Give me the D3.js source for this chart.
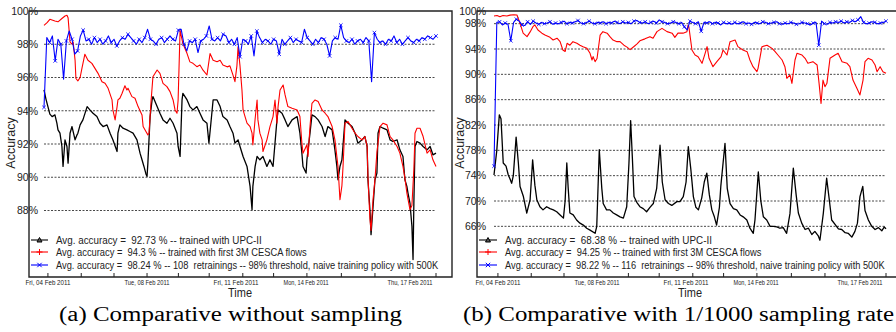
<!DOCTYPE html>
<html>
<head>
<meta charset="utf-8">
<script src="https://cdn.jsdelivr.net/npm/d3@7"></script>
<style>
  body { margin: 0; background: #fff; }
  text { font-family: "Liberation Sans", Arial, sans-serif; white-space: pre; }
  text.caption { font-family: "Liberation Serif", "DejaVu Serif", serif; }
</style>
</head>
<body>
<div id="chart"></div>
<script>
// time axis, in days since Fri 04 Feb 2011
const tickDays = [0.14, 1.33, 2.5, 3.68, 4.8, 5.9, 7.1, 8.2, 9.39, 10.62, 11.82, 13.07, 14.0];
const tickLabelDays = [0.14, 3.68, 6.86, 9.36, 13.07];
const tickLabels = ["Fri, 04 Feb 2011", "Tue, 08 Feb 2011", "Fri, 11 Feb 2011", "Mon, 14 Feb 2011", "Thu, 17 Feb 2011"];

const yTicksA = [100, 98, 96, 94, 92, 90, 88];
const gridA = [98, 96, 94, 92, 90, 88];
const yTicksB = [100, 98, 94, 90, 86, 82, 78, 74, 70, 66];
const gridB = [98, 94, 90, 86, 82, 78, 74, 70, 66];

const legendA = [
    "Avg. accuracy =  92.73 % -- trained with UPC-II",
    "Avg. accuracy =  94.3 % -- trained with first 3M CESCA flows",
    "Avg. accuracy =  98.24 % -- 108  retrainings -- 98% threshold, naive training policy with 500K"
];
const legendB = [
    "Avg. accuracy =  68.38 % -- trained with UPC-II",
    "Avg. accuracy =  94.25 % -- trained with first 3M CESCA flows",
    "Avg. accuracy =  98.22 % -- 116  retrainings -- 98% threshold, naive training policy with 500K"
];
const captions = ["(a) Comparative without sampling", "(b) Comparative with 1/1000 sampling rate"];

// (a) without sampling: [day, accuracy %]
const blackA = [[0,95.25],[0.07,94.7],[0.14,94.25],[0.21,93.8],[0.29,93.65],[0.39,93.75],[0.46,93.25],[0.5,92.85],[0.57,92.65],[0.64,91.85],[0.68,90.65],[0.75,92.25],[0.82,91.85],[0.86,90.85],[0.93,92.65],[1,93.05],[1.11,92.25],[1.18,92.55],[1.21,92.65],[1.29,93.15],[1.39,93.45],[1.54,94.25],[1.64,94.05],[1.75,93.85],[1.89,93.65],[2,93.25],[2.11,93.05],[2.25,93.15],[2.36,92.65],[2.46,92.25],[2.61,91.55],[2.64,92.65],[2.71,93.15],[2.82,92.95],[2.96,92.85],[3.07,92.75],[3.18,92.65],[3.32,92.25],[3.43,91.45],[3.5,91.05],[3.57,90.65],[3.64,90.2],[3.68,90.05],[3.71,90.85],[3.79,93.65],[3.86,94.65],[3.89,94.85],[4.04,94.25],[4.14,93.85],[4.25,93.45],[4.39,93.25],[4.5,93.55],[4.61,93.25],[4.75,92.65],[4.79,91.85],[4.86,91.25],[4.93,94.65],[4.96,95.05],[5.11,94.65],[5.21,94.25],[5.32,94.05],[5.46,94.25],[5.57,93.85],[5.68,93.45],[5.82,93.25],[5.89,92.05],[5.96,93.25],[6.04,94.65],[6.18,94.65],[6.29,94.25],[6.39,93.65],[6.54,93.45],[6.64,93.05],[6.75,92.65],[6.82,92.05],[6.93,92.25],[7,91.85],[7.11,91.25],[7.25,90.65],[7.36,89.45],[7.43,88.05],[7.46,89.45],[7.54,90.65],[7.61,91.25],[7.71,91.05],[7.82,91.25],[7.96,90.65],[8.07,91.05],[8.18,90.65],[8.32,93.45],[8.36,94.05],[8.5,93.85],[8.61,93.45],[8.71,93.05],[8.86,93.45],[9.04,93.65],[9.14,92.65],[9.21,91.45],[9.25,90.65],[9.36,90.25],[9.39,91.05],[9.5,92.65],[9.57,93.75],[9.68,93.65],[9.79,93.45],[9.93,93.05],[10.04,92.45],[10.14,93.05],[10.29,92.85],[10.39,91.65],[10.46,90.65],[10.5,89.85],[10.57,90.65],[10.64,91.05],[10.75,93.45],[10.86,93.25],[11,93.05],[11.11,92.65],[11.21,92.05],[11.36,92.25],[11.46,92.45],[11.54,91.85],[11.57,89.85],[11.64,88.05],[11.68,86.55],[11.75,88.2],[11.82,89.85],[11.89,90.25],[11.93,92.65],[12,93.05],[12.11,92.95],[12.25,92.85],[12.36,92.25],[12.46,92.15],[12.61,92.25],[12.71,91.65],[12.82,91.25],[12.89,89.85],[12.96,89.45],[13,89.05],[13.07,88.45],[13.14,87.05],[13.18,85.05],[13.21,88.5],[13.25,91.85],[13.32,92.15],[13.43,92.05],[13.54,91.85],[13.68,91.65],[13.79,91.85],[13.89,91.35],[14,91.45]];

const redA = [[0,99.14],[0.11,99.3],[0.21,99.5],[0.39,99.4],[0.5,99.35],[0.64,99.55],[0.75,99.7],[0.82,99.74],[0.86,99.6],[0.93,98.14],[1,98.0],[1.04,98.14],[1.11,97.04],[1.14,95.94],[1.21,95.8],[1.29,96.0],[1.36,96.6],[1.46,97.4],[1.57,97.04],[1.71,96.85],[1.82,96.55],[1.93,96.25],[2.07,95.75],[2.18,95.65],[2.29,95.35],[2.43,94.65],[2.46,94.05],[2.54,93.45],[2.61,94.25],[2.64,94.65],[2.71,94.75],[2.79,95.05],[2.89,95.5],[2.96,95.25],[3,95.35],[3.14,94.85],[3.25,94.75],[3.36,94.25],[3.5,93.75],[3.54,93.05],[3.64,92.75],[3.71,92.55],[3.75,92.65],[3.82,94.5],[3.89,96.04],[4.04,96.45],[4.14,96.25],[4.25,95.65],[4.39,95.45],[4.5,95.15],[4.61,94.65],[4.68,94.05],[4.75,93.85],[4.79,94.65],[4.86,98.84],[4.96,98.04],[5.11,97.44],[5.21,96.94],[5.32,96.85],[5.46,96.65],[5.57,96.75],[5.68,96.44],[5.82,96.15],[5.93,97.44],[6.04,97.04],[6.18,96.95],[6.29,97.04],[6.39,96.75],[6.54,96.64],[6.64,96.7],[6.75,96.14],[6.82,95.75],[6.89,96.7],[6.93,97.84],[7,96.7],[7.07,95.25],[7.11,94.05],[7.18,93.65],[7.25,93.25],[7.36,93.05],[7.43,92.65],[7.46,91.95],[7.54,93.5],[7.61,94.65],[7.64,93.45],[7.71,92.65],[7.79,92.25],[7.82,91.55],[7.96,92.25],[8.07,93.05],[8.18,93.65],[8.25,94.65],[8.32,93.25],[8.36,94.25],[8.43,95.25],[8.54,95.55],[8.61,94.95],[8.71,94.25],[8.86,94.15],[9.04,94.05],[9.14,93.65],[9.21,92.05],[9.25,91.45],[9.39,91.95],[9.43,91.25],[9.5,93.05],[9.57,94.45],[9.68,94.65],[9.79,94.55],[9.93,94.05],[10.04,93.85],[10.14,93.65],[10.29,93.05],[10.39,92.25],[10.5,90.65],[10.57,88.65],[10.64,89.5],[10.68,90.65],[10.75,93.25],[10.86,93.35],[11,92.95],[11.11,92.65],[11.21,92.45],[11.36,92.25],[11.46,92.45],[11.54,91.85],[11.57,90.05],[11.64,87.5],[11.68,86.8],[11.75,88.65],[11.82,89.85],[11.89,91.5],[12,93.05],[12.11,93.25],[12.25,93.15],[12.36,92.45],[12.46,92.25],[12.61,91.85],[12.71,91.45],[12.82,90.65],[12.89,89.95],[12.96,89.05],[13.07,88.05],[13.14,88.3],[13.21,90.5],[13.25,92.65],[13.32,92.95],[13.43,92.95],[13.54,92.45],[13.68,91.45],[13.79,91.65],[13.89,91.05],[14,90.65]];

// blue series sampled every 0.1 day
const blueA = [94.2,98.4,98.1,98.5,97.0,98.3,98.0,95.9,98.2,98.8,
    98.3,97.4,97.6,98.5,98.85,98.2,98.3,98.0,98.4,98.1,
    98.3,98.0,98.2,98.5,98.1,98.3,97.9,98.2,98.4,98.3,
    98.6,98.4,98.2,98.0,98.3,98.1,98.4,98.9,98.3,98.2,
    98.0,98.3,98.4,98.1,98.3,98.5,98.3,98.2,98.85,98.9,
    98.0,97.6,98.2,98.1,98.3,97.5,98.2,98.3,98.5,99.1,
    98.3,98.2,98.4,98.2,98.6,98.5,98.1,98.3,98.0,98.4,
    97.25,98.3,98.2,98.0,98.5,97.3,98.8,98.4,98.1,98.3,
    98.2,98.0,98.3,98.2,97.4,98.3,98.0,98.2,98.4,98.1,
    98.3,98.2,98.1,98.9,98.4,98.2,98.0,98.3,98.1,98.4,
    98.3,98.0,97.3,98.2,98.4,98.3,99.15,98.4,98.2,98.1,
    98.3,98.0,98.2,98.3,98.1,98.4,98.2,95.75,98.7,98.3,
    98.1,98.2,98.0,98.3,98.2,98.5,98.1,98.3,98.0,98.2,
    98.4,98.2,98.1,98.3,98.2,98.4,98.3,98.5,98.4,98.3,98.5];

// (b) 1/1000 sampling rate
const blackB = [[0,74.1],[0.1,78],[0.19,83.6],[0.25,83],[0.33,76],[0.43,75.5],[0.51,74.1],[0.57,73.5],[0.63,72.8],[0.69,74],[0.79,80.1],[0.87,76],[0.93,72.3],[1.05,70.7],[1.17,68.1],[1.29,70.2],[1.38,76.5],[1.46,72.5],[1.53,70.2],[1.64,69.1],[1.75,68.6],[1.88,69.1],[2,68.8],[2.12,68.6],[2.24,68.3],[2.36,67.8],[2.48,67.3],[2.54,70],[2.6,76.0],[2.65,72],[2.71,68.1],[2.83,67.8],[2.95,67.0],[3.07,66.5],[3.19,66.2],[3.31,65.7],[3.43,65.4],[3.61,64.9],[3.67,66],[3.76,78.1],[3.85,72],[3.9,69.6],[4.02,68.6],[4.14,68.6],[4.26,68.1],[4.38,67.8],[4.5,67.5],[4.62,67.3],[4.74,69.1],[4.82,76],[4.88,82.7],[4.94,77],[5,70.7],[5.1,69.8],[5.21,69.1],[5.33,68.8],[5.45,68.3],[5.57,69],[5.69,69.6],[5.81,72],[5.93,78.8],[6.01,73],[6.11,70.2],[6.23,69.6],[6.35,69.3],[6.53,69.9],[6.64,69.9],[6.76,70.7],[6.86,73],[6.94,78.6],[7.03,75],[7.12,70.7],[7.21,69],[7.3,68.6],[7.42,70.5],[7.51,73],[7.6,74.4],[7.69,71],[7.78,68.6],[7.87,67.5],[7.95,66.2],[8.05,69],[8.1,72.3],[8.25,79.1],[8.33,72],[8.43,69.6],[8.55,68.8],[8.67,68.6],[8.79,67.8],[8.9,67.5],[9.03,67],[9.14,65.7],[9.26,64.9],[9.32,67],[9.44,74.6],[9.53,70],[9.62,67.5],[9.74,67],[9.86,66],[9.98,66],[10.1,65.9],[10.21,65.7],[10.33,65.8],[10.45,64.9],[10.57,68],[10.69,75.2],[10.79,71],[10.87,68.1],[10.99,66.5],[11.11,65.5],[11.23,65.7],[11.35,64.7],[11.46,65.2],[11.58,64.5],[11.64,63.8],[11.76,68],[11.88,73.6],[11.98,70],[12.06,67],[12.18,66.3],[12.3,65.6],[12.42,65.5],[12.54,65],[12.65,64.9],[12.78,64.3],[12.89,65.2],[12.98,66.5],[13.07,70.7],[13.17,72.3],[13.25,68.5],[13.37,67],[13.49,66],[13.61,65.5],[13.73,65.8],[13.85,65.3],[13.94,65.9],[14,65.6]];

const redB = [[0,99.2],[0.11,99.3],[0.21,99.1],[0.32,99.3],[0.46,99.2],[0.57,99.35],[0.71,99.4],[0.82,99.37],[0.86,98.9],[0.93,98.05],[1.04,96.5],[1.18,95.95],[1.29,96.7],[1.39,97.53],[1.46,97.8],[1.57,97.0],[1.71,96.5],[1.82,96.2],[2,95.84],[2.11,95.42],[2.25,95.7],[2.36,95.16],[2.46,93.84],[2.54,93.6],[2.61,94.9],[2.71,94.6],[2.82,95.16],[2.96,94.9],[3.07,94.6],[3.18,94.37],[3.32,94.1],[3.43,93.32],[3.5,92.26],[3.54,92.8],[3.61,92.0],[3.68,92.5],[3.79,96.2],[3.89,96.74],[4.04,96.5],[4.14,95.95],[4.25,95.42],[4.39,95.16],[4.5,95.16],[4.64,94.6],[4.75,94.3],[4.86,93.9],[5,94.4],[5.11,94.8],[5.21,95.3],[5.39,95.6],[5.57,95.95],[5.68,95.7],[5.82,96.74],[6,97.26],[6.18,96.74],[6.36,96.5],[6.46,95.84],[6.57,96.5],[6.75,96.5],[6.89,96.74],[6.93,97.79],[6.96,97.5],[7.07,93.84],[7.18,93.05],[7.29,92.79],[7.43,91.74],[7.54,93.3],[7.61,94.37],[7.68,92.53],[7.82,91.21],[7.96,92.0],[8.11,92.79],[8.18,93.84],[8.32,93.05],[8.43,95.16],[8.61,95.42],[8.71,94.37],[8.89,93.84],[9.04,93.58],[9.14,92.26],[9.25,91.21],[9.39,90.42],[9.43,90.95],[9.57,94.37],[9.75,94.6],[9.93,94.1],[10.04,93.58],[10.14,93.05],[10.29,92.26],[10.39,91.21],[10.46,89.37],[10.57,89.9],[10.64,88.58],[10.75,92.26],[10.82,93.32],[11,93.05],[11.11,92.53],[11.21,91.74],[11.39,92.0],[11.54,91.47],[11.61,88.58],[11.68,85.42],[11.75,89.1],[11.82,88.05],[11.89,88.58],[12,92.53],[12.18,93.05],[12.29,93.32],[12.43,92.0],[12.61,91.74],[12.71,91.21],[12.82,89.1],[12.96,87.79],[13.07,86.74],[13.18,89.1],[13.25,92.0],[13.36,92.53],[13.5,92.26],[13.61,91.47],[13.68,90.42],[13.79,91.21],[13.89,90.42],[14,90.16]];

const blueB = [75.5,98.2,98.3,97.8,98.1,97.9,95.3,98.2,98.7,98.4,
    97.8,97.7,98.3,97.9,98.4,98.1,97.9,98.2,98.0,98.1,
    98.3,97.9,98.1,98.0,98.2,98.4,98.0,98.2,98.1,98.3,
    98.5,98.1,98.0,98.2,98.4,98.1,98.0,98.2,98.1,98.3,
    98.0,98.2,98.1,98.4,98.2,98.0,98.3,98.1,98.2,98.0,
    98.4,98.5,98.2,98.1,98.3,98.0,98.2,98.4,98.1,98.6,
    98.3,98.2,98.0,98.1,98.3,98.2,98.0,98.2,97.5,97.0,
    98.4,98.2,98.0,98.3,96.8,98.2,98.1,98.3,98.0,98.2,
    98.1,97.8,98.2,98.0,98.1,97.9,98.2,98.0,98.1,98.3,
    98.0,98.1,97.9,98.2,98.1,98.0,98.3,98.2,98.0,98.1,
    98.2,98.3,98.0,97.9,98.1,98.0,98.2,98.1,97.9,98.0,
    98.2,98.1,98.0,97.8,98.1,98.2,94.6,98.4,98.0,97.9,
    98.2,98.1,98.3,98.2,98.4,98.1,98.3,98.2,98.5,98.3,
    98.6,99.1,98.2,98.0,98.1,98.3,98.2,98.0,98.1,98.2,98.4];

const panels = [
    {frame: {left: 29, top: 11, right: 452, bottom: 277}, plot: [44, 436], yDomain: [84, 100],
     yTicks: yTicksA, grid: gridA, labelEnd: 38,
     black: blackA, red: redA, blue: blueA, legend: legendA,
     leg: {x0: 31, x1: 48, tx: 56, ys: [240, 252, 265], widths: [206, 251, 383]},
     yLabelX: 15, timeX: 240, caption: captions[0], capX: 59, capW: 343},
    {frame: {left: 477, top: 11, right: 899, bottom: 277}, plot: [494, 886], yDomain: [58, 100],
     yTicks: yTicksB, grid: gridB, labelEnd: 486,
     black: blackB, red: redB, blue: blueB, legend: legendB,
     leg: {x0: 479, x1: 497, tx: 505, ys: [240, 252, 265], widths: [207, 257, 380]},
     yLabelX: 464, timeX: 690, caption: captions[1], capX: 463, capW: 431}
];

const svg = d3.select("#chart").append("svg")
    .attr("width", 896)
    .attr("height", 332);

function drawPanel(p) {
    const g = svg.append("g");
    const f = p.frame;

    const x = d3.scaleLinear().domain([0, 14]).range(p.plot);
    const y = d3.scaleLinear().domain(p.yDomain).range([f.bottom, f.top]);
    const xi = d3.scaleLinear().domain([0, p.blue.length - 1]).range([0, 14]);

    // dashed grid
    g.selectAll("line.grid")
        .data(p.grid)
        .join("line")
        .attr("class", "grid")
        .attr("x1", p.plot[0]).attr("x2", p.plot[1])
        .attr("y1", d => y(d)).attr("y2", d => y(d))
        .attr("stroke", "#333")
        .attr("stroke-width", 0.9)
        .attr("stroke-dasharray", "2,1.5");

    // frame
    g.append("path")
        .attr("d", `M${f.left},${f.top}H${f.right}V${f.bottom}H${f.left}Z`)
        .attr("fill", "none")
        .attr("stroke", "#222")
        .attr("stroke-width", 1.4);

    // x ticks
    g.selectAll("line.xtick")
        .data(tickDays)
        .join("line")
        .attr("class", "xtick")
        .attr("x1", d => x(d)).attr("x2", d => x(d))
        .attr("y1", f.bottom).attr("y2", f.bottom - 4)
        .attr("stroke", "#222");

    g.selectAll("text.xlab")
        .data(tickLabelDays)
        .join("text")
        .attr("class", "xlab")
        .attr("x", d => x(d) - 22.5)
        .attr("y", f.bottom + 8)
        .attr("font-size", 7)
        .attr("textLength", 45)
        .attr("lengthAdjust", "spacingAndGlyphs")
        .attr("fill", "#222")
        .text((d, i) => tickLabels[i]);

    // y tick labels
    g.selectAll("text.ylab")
        .data(p.yTicks)
        .join("text")
        .attr("class", "ylab")
        .attr("x", p.labelEnd)
        .attr("y", d => y(d) + 3.8)
        .attr("text-anchor", "end")
        .attr("font-size", 10.5)
        .attr("fill", "#222")
        .text(d => d + "%");

    // series
    const line = d3.line().x(d => x(d[0])).y(d => y(d[1]));
    g.append("path").datum(p.black)
        .attr("d", line).attr("fill", "none")
        .attr("stroke", "#000").attr("stroke-width", 1.3).attr("stroke-linejoin", "round");
    g.append("path").datum(p.red)
        .attr("d", line).attr("fill", "none")
        .attr("stroke", "#ff0000").attr("stroke-width", 1.1).attr("stroke-linejoin", "round");

    const bluePts = p.blue.map((v, i) => [xi(i), v]);
    g.append("path").datum(bluePts)
        .attr("d", line).attr("fill", "none")
        .attr("stroke", "#0000ff").attr("stroke-width", 1.1).attr("stroke-linejoin", "round");
    g.selectAll("path.bx")
        .data(bluePts.filter((d, i) => i % 2 === 0))
        .join("path")
        .attr("class", "bx")
        .attr("transform", d => `translate(${x(d[0])},${y(d[1])})`)
        .attr("d", "M-1.8,-1.8L1.8,1.8M-1.8,1.8L1.8,-1.8")
        .attr("stroke", "#0000ff").attr("stroke-width", 0.8);

    // legend
    const colors = ["#000", "#ff0000", "#0000ff"];
    const marks = ["M-2.5,2L0,-2.5L2.5,2Z", "M-3,0H3M0,-3V3", "M-2.2,-2.2L2.2,2.2M-2.2,2.2L2.2,-2.2"];
    const leg = g.selectAll("g.leg")
        .data(p.legend)
        .join("g")
        .attr("class", "leg")
        .attr("transform", (d, i) => `translate(0,${p.leg.ys[i]})`);
    leg.append("line")
        .attr("x1", p.leg.x0).attr("x2", p.leg.x1)
        .attr("stroke", (d, i) => colors[i]).attr("stroke-width", 1.1);
    leg.append("path")
        .attr("transform", `translate(${(p.leg.x0 + p.leg.x1) / 2},0)`)
        .attr("d", (d, i) => marks[i])
        .attr("fill", (d, i) => i === 0 ? "#555" : "none")
        .attr("stroke", (d, i) => colors[i]).attr("stroke-width", 1);
    // squeeze each legend line horizontally, as in the printed figure
    leg.append("text")
        .attr("font-size", 10.5)
        .attr("fill", "#222")
        .text(d => d)
        .each(function(d, i) {
            const k = p.leg.widths[i] / this.getComputedTextLength();
            d3.select(this).attr("transform", `translate(${p.leg.tx},3.8) scale(${k},1)`);
        });

    // axis titles
    g.append("text")
        .attr("transform", `translate(${p.yLabelX},143) rotate(-90)`)
        .attr("text-anchor", "middle")
        .attr("font-size", 12.5)
        .attr("fill", "#222")
        .text("Accuracy");
    g.append("text")
        .attr("x", p.timeX)
        .attr("y", 297)
        .attr("text-anchor", "middle")
        .attr("font-size", 12)
        .attr("textLength", 24)
        .attr("lengthAdjust", "spacingAndGlyphs")
        .attr("fill", "#222")
        .text("Time");

    // caption
    g.append("text")
        .attr("class", "caption")
        .attr("x", p.capX)
        .attr("y", 321)
        .attr("font-size", 20)
        .attr("textLength", p.capW)
        .attr("lengthAdjust", "spacingAndGlyphs")
        .attr("fill", "#000")
        .text(p.caption);
}

panels.forEach(drawPanel);
</script>
</body>
</html>
